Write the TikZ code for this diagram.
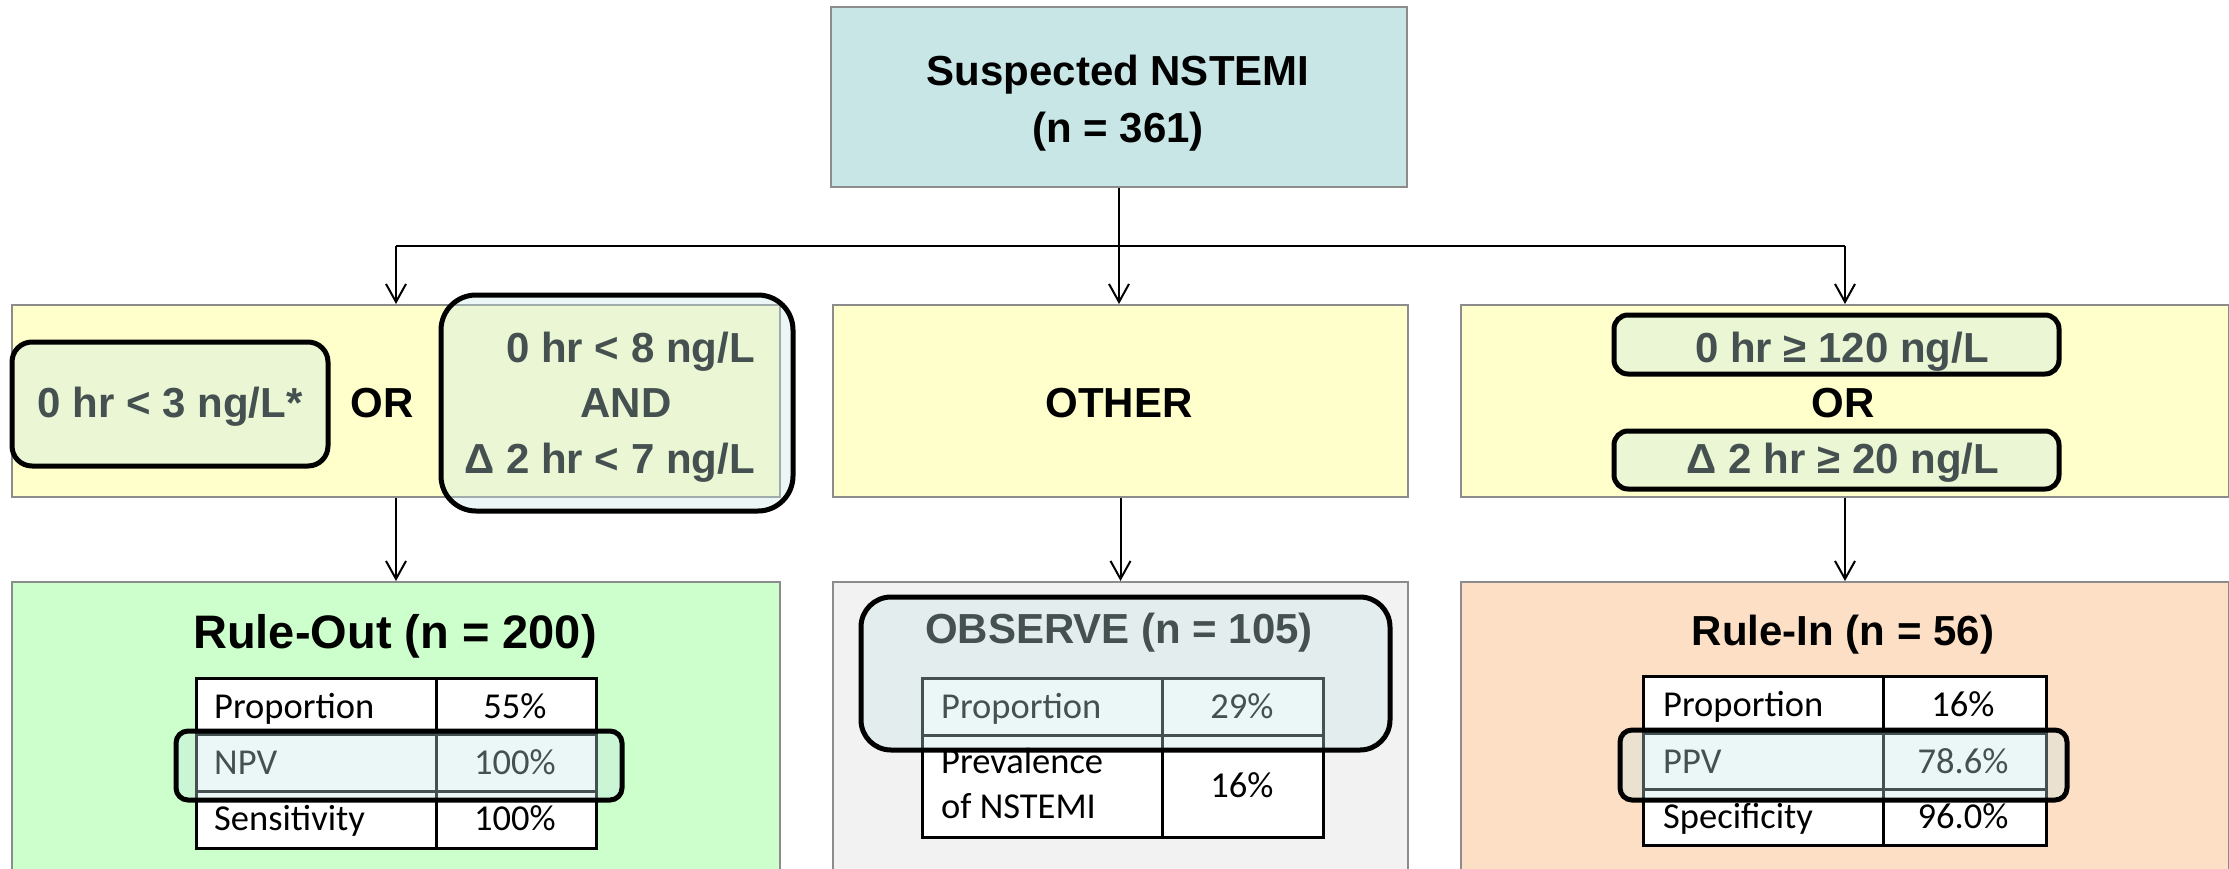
\documentclass[tikz,border=0pt]{standalone}
\usepackage{fontspec}
\setmainfont{Liberation Sans}
\newfontfamily\calfont{Carlito}
\usetikzlibrary{arrows.meta}
\definecolor{topc}{HTML}{C8E6E6}
\definecolor{yelc}{HTML}{FFFFCC}
\definecolor{grnc}{HTML}{CCFFCC}
\definecolor{gryc}{HTML}{F2F2F2}
\definecolor{pchc}{HTML}{FDDFC6}
\definecolor{bordc}{HTML}{8C8C8C}
\newcommand\hdfont{\fontsize{42}{57}\selectfont\bfseries}
\newcommand\ttlfont{\fontsize{47}{56}\selectfont\bfseries}
\newcommand\tabfont{\calfont\fontsize{36.5}{45}\selectfont}
\begin{document}
\begin{tikzpicture}[x=1pt,y=-1pt,
  panel/.style={draw=bordc,line width=2pt,inner sep=0pt,anchor=north west},
  cell/.style={draw=black,line width=2.5pt,fill=white,inner sep=0pt,anchor=north west},
  txt/.style={inner sep=0pt,font=\hdfont,anchor=base},
  tabtxt/.style={inner sep=0pt,font=\tabfont},
  conn/.style={draw=black,line width=2pt},
  arr/.style={conn,-{Straight Barb[length=18pt,width=20pt]}},
  hl/.style={draw=black,line width=5pt,fill=topc,fill opacity=0.35,draw opacity=1,inner sep=0pt,anchor=north west}]
\useasboundingbox (0,0) rectangle (2229,868);
\begin{scope}
\clip (0,0) rectangle (2229,868);
% panels
\node[panel,fill=topc,minimum width=576pt,minimum height=180pt] (top) at (830,6) {};
\node[panel,fill=yelc,minimum width=768pt,minimum height=192pt] (yl) at (11,304) {};
\node[panel,fill=yelc,minimum width=575pt,minimum height=192pt] (ym) at (832,304) {};
\node[panel,fill=yelc,minimum width=768pt,minimum height=192pt] (yr) at (1460,304) {};
\node[panel,fill=grnc,minimum width=768pt,minimum height=320pt] (bl) at (11,581) {};
\node[panel,fill=gryc,minimum width=575pt,minimum height=320pt] (bm) at (832,581) {};
\node[panel,fill=pchc,minimum width=768pt,minimum height=320pt] (br) at (1460,581) {};
% top texts
\node[txt] (t1) at (1118,85) {Suspected NSTEMI};
\node[txt] (t2) at (1118,142) {(n = 361)};
% left criteria
\node[txt] (c3) at (170,417) {0 hr < 3 ng/L*};
\node[txt] (or1) at (382,417) {OR};
\node[txt,anchor=base east] (c8) at (755,362) {0 hr < 8 ng/L};
\node[txt] (and1) at (626,417) {AND};
\node[txt,anchor=base east] (c7) at (755,473) {Δ 2 hr < 7 ng/L};
% middle
\node[txt] (oth) at (1119,417) {OTHER};
% right criteria
\node[txt] (c120) at (1842,362) {0 hr ≥ 120 ng/L};
\node[txt] (or2) at (1843,417) {OR};
\node[txt] (c20) at (1843,473) {Δ 2 hr ≥ 20 ng/L};
% titles
\node[txt,font=\ttlfont] (rot) at (395,648) {Rule-Out (n = 200)};
\node[txt] (obt) at (1119,643) {OBSERVE (n = 105)};
\node[txt] (rit) at (1843,645) {Rule-In (n = 56)};
% Rule-Out table
\node[cell,minimum width=240pt,minimum height=56pt] (ro11) at (195,677) {};
\node[cell,minimum width=160pt,minimum height=56pt] (ro12) at (435,677) {};
\node[cell,minimum width=240pt,minimum height=57pt] (ro21) at (195,733) {};
\node[cell,minimum width=160pt,minimum height=57pt] (ro22) at (435,733) {};
\node[cell,minimum width=240pt,minimum height=57pt] (ro31) at (195,790) {};
\node[cell,minimum width=160pt,minimum height=57pt] (ro32) at (435,790) {};
\node[tabtxt,anchor=base west] (roa1) at (214,718) {Proportion};
\node[tabtxt,anchor=base] (rob1) at (515,718) {55\%};
\node[tabtxt,anchor=base west] (roa2) at (214,774) {NPV};
\node[tabtxt,anchor=base] (rob2) at (515,774) {100\%};
\node[tabtxt,anchor=base west] (roa3) at (214,830) {Sensitivity};
\node[tabtxt,anchor=base] (rob3) at (515,830) {100\%};
% Observe table
\node[cell,minimum width=240pt,minimum height=57pt] (ob11) at (921,677) {};
\node[cell,minimum width=161pt,minimum height=57pt] (ob12) at (1161,677) {};
\node[cell,minimum width=240pt,minimum height=102pt] (ob21) at (921,734) {};
\node[cell,minimum width=161pt,minimum height=102pt] (ob22) at (1161,734) {};
\node[tabtxt,anchor=base west] (oba1) at (941,718) {Proportion};
\node[tabtxt,anchor=base] (obb1) at (1242,718) {29\%};
\node[tabtxt,anchor=base west] (oba2) at (941,773) {Prevalence};
\node[tabtxt,anchor=base west] (oba3) at (941,818) {of NSTEMI};
\node[tabtxt,anchor=base] (obb2) at (1242,797) {16\%};
% Rule-In table
\node[cell,minimum width=240pt,minimum height=57pt] (ri11) at (1642,675) {};
\node[cell,minimum width=163pt,minimum height=57pt] (ri12) at (1882,675) {};
\node[cell,minimum width=240pt,minimum height=56pt] (ri21) at (1642,732) {};
\node[cell,minimum width=163pt,minimum height=56pt] (ri22) at (1882,732) {};
\node[cell,minimum width=240pt,minimum height=56pt] (ri31) at (1642,788) {};
\node[cell,minimum width=163pt,minimum height=56pt] (ri32) at (1882,788) {};
\node[tabtxt,anchor=base west] (ria1) at (1663,716) {Proportion};
\node[tabtxt,anchor=base] (rib1) at (1963,716) {16\%};
\node[tabtxt,anchor=base west] (ria2) at (1663,773) {PPV};
\node[tabtxt,anchor=base] (rib2) at (1963,773) {78.6\%};
\node[tabtxt,anchor=base west] (ria3) at (1663,828) {Specificity};
\node[tabtxt,anchor=base] (rib3) at (1963,828) {96.0\%};
% connectors
\coordinate (hy) at (0,246);
\coordinate (jl) at (yl.north |- hy);
\coordinate (jr) at (yr.north |- hy);
\draw[arr] (top.south) -- (top.south |- ym.north);
\draw[conn] (jl) -- (jr);
\draw[arr] (jl) -- (yl.north);
\draw[arr] (jr) -- (yr.north);
\draw[arr] (yl.south) -- (bl.north);
\draw[arr] (ym.south) -- (bm.north);
\draw[arr] (yr.south) -- (br.north);
% highlight overlays
\node[hl,rounded corners=20pt,minimum width=316pt,minimum height=124pt] (h1) at (9.5,339.5) {};
\node[hl,rounded corners=35pt,minimum width=352pt,minimum height=216pt] (h2) at (438.5,292.5) {};
\node[hl,rounded corners=14pt,minimum width=445pt,minimum height=59pt] (h3) at (1611.5,312.5) {};
\node[hl,rounded corners=14pt,minimum width=445pt,minimum height=58pt] (h4) at (1611.5,428.5) {};
\node[hl,rounded corners=12pt,minimum width=446pt,minimum height=69pt] (h5) at (173.5,728.5) {};
\node[hl,rounded corners=30pt,minimum width=529pt,minimum height=153pt] (h6) at (858.5,594.5) {};
\node[hl,rounded corners=12pt,minimum width=447pt,minimum height=70pt] (h7) at (1617.5,727.5) {};
\end{scope}
\end{tikzpicture}
\end{document}
